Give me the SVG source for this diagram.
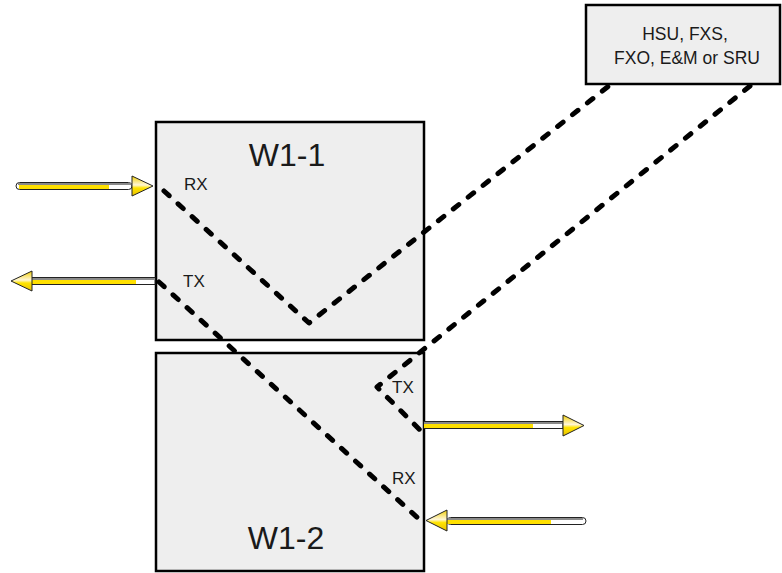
<svg xmlns="http://www.w3.org/2000/svg" width="782" height="573" viewBox="0 0 782 573">
<style>
.box{fill:#eeeeee;stroke:#000;stroke-width:2.5}
.lbl{font-family:"Liberation Sans",Arial,sans-serif;fill:#1a1a1a}
.big{font-size:32px;text-anchor:middle}
.sm{font-size:17px}
.hsu{font-size:17.5px;text-anchor:middle}
.dash{fill:none;stroke:#000;stroke-width:5;stroke-linecap:round;stroke-linejoin:round;stroke-dasharray:7 12}
.bar{fill:#fff;stroke:#222;stroke-width:1}
.yel{fill:#ffe000}
.gry{fill:#8a8a8a}
.head{fill:url(#hg);stroke:#222;stroke-width:1;stroke-linejoin:miter}
</style>
<defs>
<linearGradient id="hg" x1="0" y1="0" x2="0" y2="1">
<stop offset="0" stop-color="#f2cf00"/>
<stop offset="0.45" stop-color="#fff6d8"/>
<stop offset="0.6" stop-color="#ffe400"/>
<stop offset="1" stop-color="#e8c000"/>
</linearGradient>
</defs>
<g id="hsu">
<rect x="586" y="5" width="194" height="79" class="box" style="stroke-width:2.5"/>
<text x="685" y="40" class="lbl hsu">HSU, FXS,</text>
<text x="687" y="64" class="lbl hsu">FXO, E&amp;M or SRU</text>
</g>
<g id="w1-1">
<rect x="156" y="122" width="268" height="218" class="box"/>
<text x="287" y="166" class="lbl big">W1-1</text>
<text x="184" y="190" class="lbl sm">RX</text>
<text x="183" y="287" class="lbl sm">TX</text>
</g>
<g id="w1-2">
<rect x="156" y="353" width="268" height="218" class="box"/>
<text x="286" y="549" class="lbl big">W1-2</text>
<text x="392" y="393" class="lbl sm">TX</text>
<text x="392" y="484" class="lbl sm">RX</text>
</g>
<g id="connectors">
<path class="dash" d="M164,191 L309,323 L610,85"/>
<path class="dash" d="M159,282 L420,520"/>
<path class="dash" d="M750,86 L377,387 L420,430"/>
</g>
<g id="arrow-in-1">
<rect x="16" y="182.5" width="116" height="7" rx="3.5" class="bar"/>
<rect x="18" y="183" width="114" height="2" class="gry"/>
<rect x="19" y="185" width="90" height="4" class="yel"/>
<polygon points="132,176 153,186 132,196" class="head"/>
</g>
<g id="arrow-out-1">
<rect x="32" y="277.5" width="123" height="7" class="bar"/>
<rect x="32" y="278" width="123" height="2" class="gry"/>
<rect x="32" y="280" width="104" height="4" class="yel"/>
<polygon points="32,271 11,281 32,291" class="head"/>
</g>
<g id="arrow-out-2">
<rect x="424" y="421.5" width="139" height="7" class="bar"/>
<rect x="424" y="422" width="139" height="2" class="gry"/>
<rect x="424" y="424" width="109" height="4" class="yel"/>
<polygon points="563,415 584,425.5 563,436" class="head"/>
</g>
<g id="arrow-in-2">
<rect x="447" y="517.5" width="139" height="7" rx="3.5" class="bar"/>
<rect x="447" y="518" width="136" height="2" class="gry"/>
<rect x="447" y="520" width="104" height="4" class="yel"/>
<polygon points="447,510 426,520.5 447,531" class="head"/>
</g>
</svg>
